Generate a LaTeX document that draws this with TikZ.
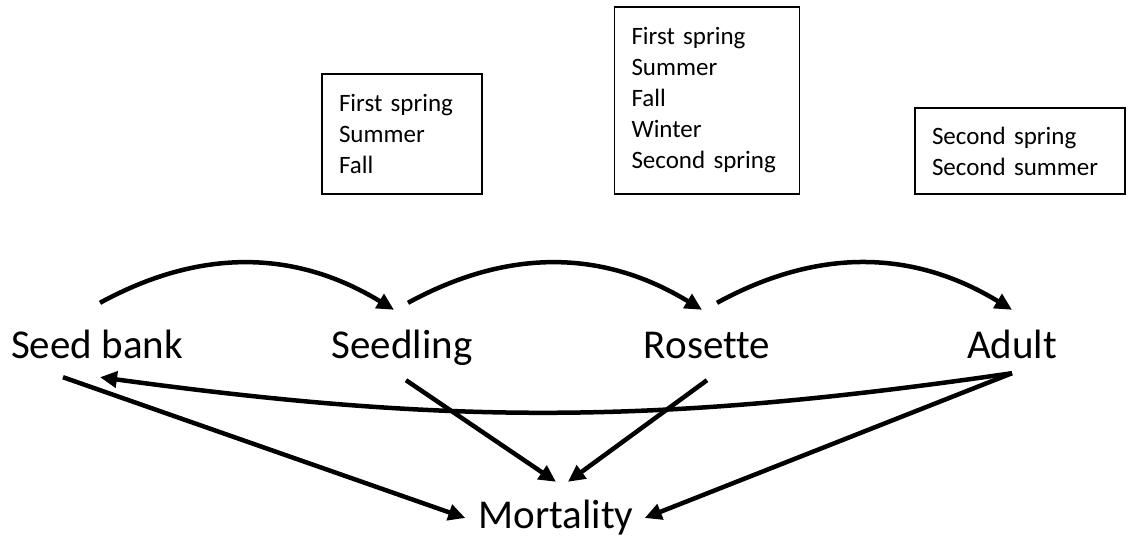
\documentclass[tikz,border=0pt]{standalone}
\usepackage{fontspec}
\setmainfont{Carlito}[Ligatures=NoCommon]
\usepackage{tikz}
\usetikzlibrary{arrows.meta,positioning}

\tikzset{
  stage/.style={inner sep=0pt, text height=29pt, text depth=9pt, font=\fontsize{41}{49}\selectfont},
  season/.style={draw, line width=1.6pt, align=left, inner xsep=17pt, font=\fontsize{25}{31}\selectfont},
  flow/.style={line width=4.5pt, -{Triangle[length=17pt,width=16pt]}}
}

\begin{document}
\begin{tikzpicture}[x=1pt, y=-1pt, node distance=305pt]
\useasboundingbox (0,0) rectangle (1134,550);
% life stages
\node[stage] (sb) at (97,348) {Seed bank};
\node[stage, on grid, right=of sb] (sl) {Seedling};
\node[stage, on grid, right=of sl] (ros) {Rosette};
\node[stage, on grid, right=of ros] (ad) {Adult};
\node[stage, on grid, below right=170pt and 154pt of sl] (mort) {Mortality};
% seasons spent in each stage
\node[season, text width=126pt, minimum height=120pt, above=134pt of sl] (seasl) {First spring\\Summer\\Fall};
\node[season, text width=151pt, minimum height=187pt, above=134pt of ros] (seasros) {First spring\\Summer\\Fall\\Winter\\Second spring};
\node[season, text width=176pt, minimum height=86pt, above=134pt of ad, xshift=8pt] (seasad) {Second spring\\Second summer};
% transitions
\draw[flow] ([xshift=3pt,yshift=26pt]sb.north) to[bend left=30] ([xshift=-8pt,yshift=19pt]sl.north);
\draw[flow] ([xshift=6pt,yshift=26pt]sl.north) to[bend left=30] ([xshift=-5pt,yshift=19pt]ros.north);
\draw[flow] ([xshift=10pt,yshift=26pt]ros.north) to[bend left=30] ([yshift=19pt]ad.north);
\draw[flow] ([yshift=-6pt]ad.south) to[bend left=8] ([xshift=3pt,yshift=-10pt]sb.south);
% deaths
\draw[flow] ([xshift=-34pt,yshift=-10pt]sb.south) -- ([xshift=-13pt]mort.west);
\draw[flow] ([xshift=4pt,yshift=-13pt]sl.south) -- ([yshift=17pt]mort.north);
\draw[flow] ([yshift=-13pt]ros.south) -- ([xshift=12pt,yshift=17pt]mort.north);
\draw[flow] ([yshift=-6pt]ad.south) -- ([xshift=11pt]mort.east);
\end{tikzpicture}
\end{document}
